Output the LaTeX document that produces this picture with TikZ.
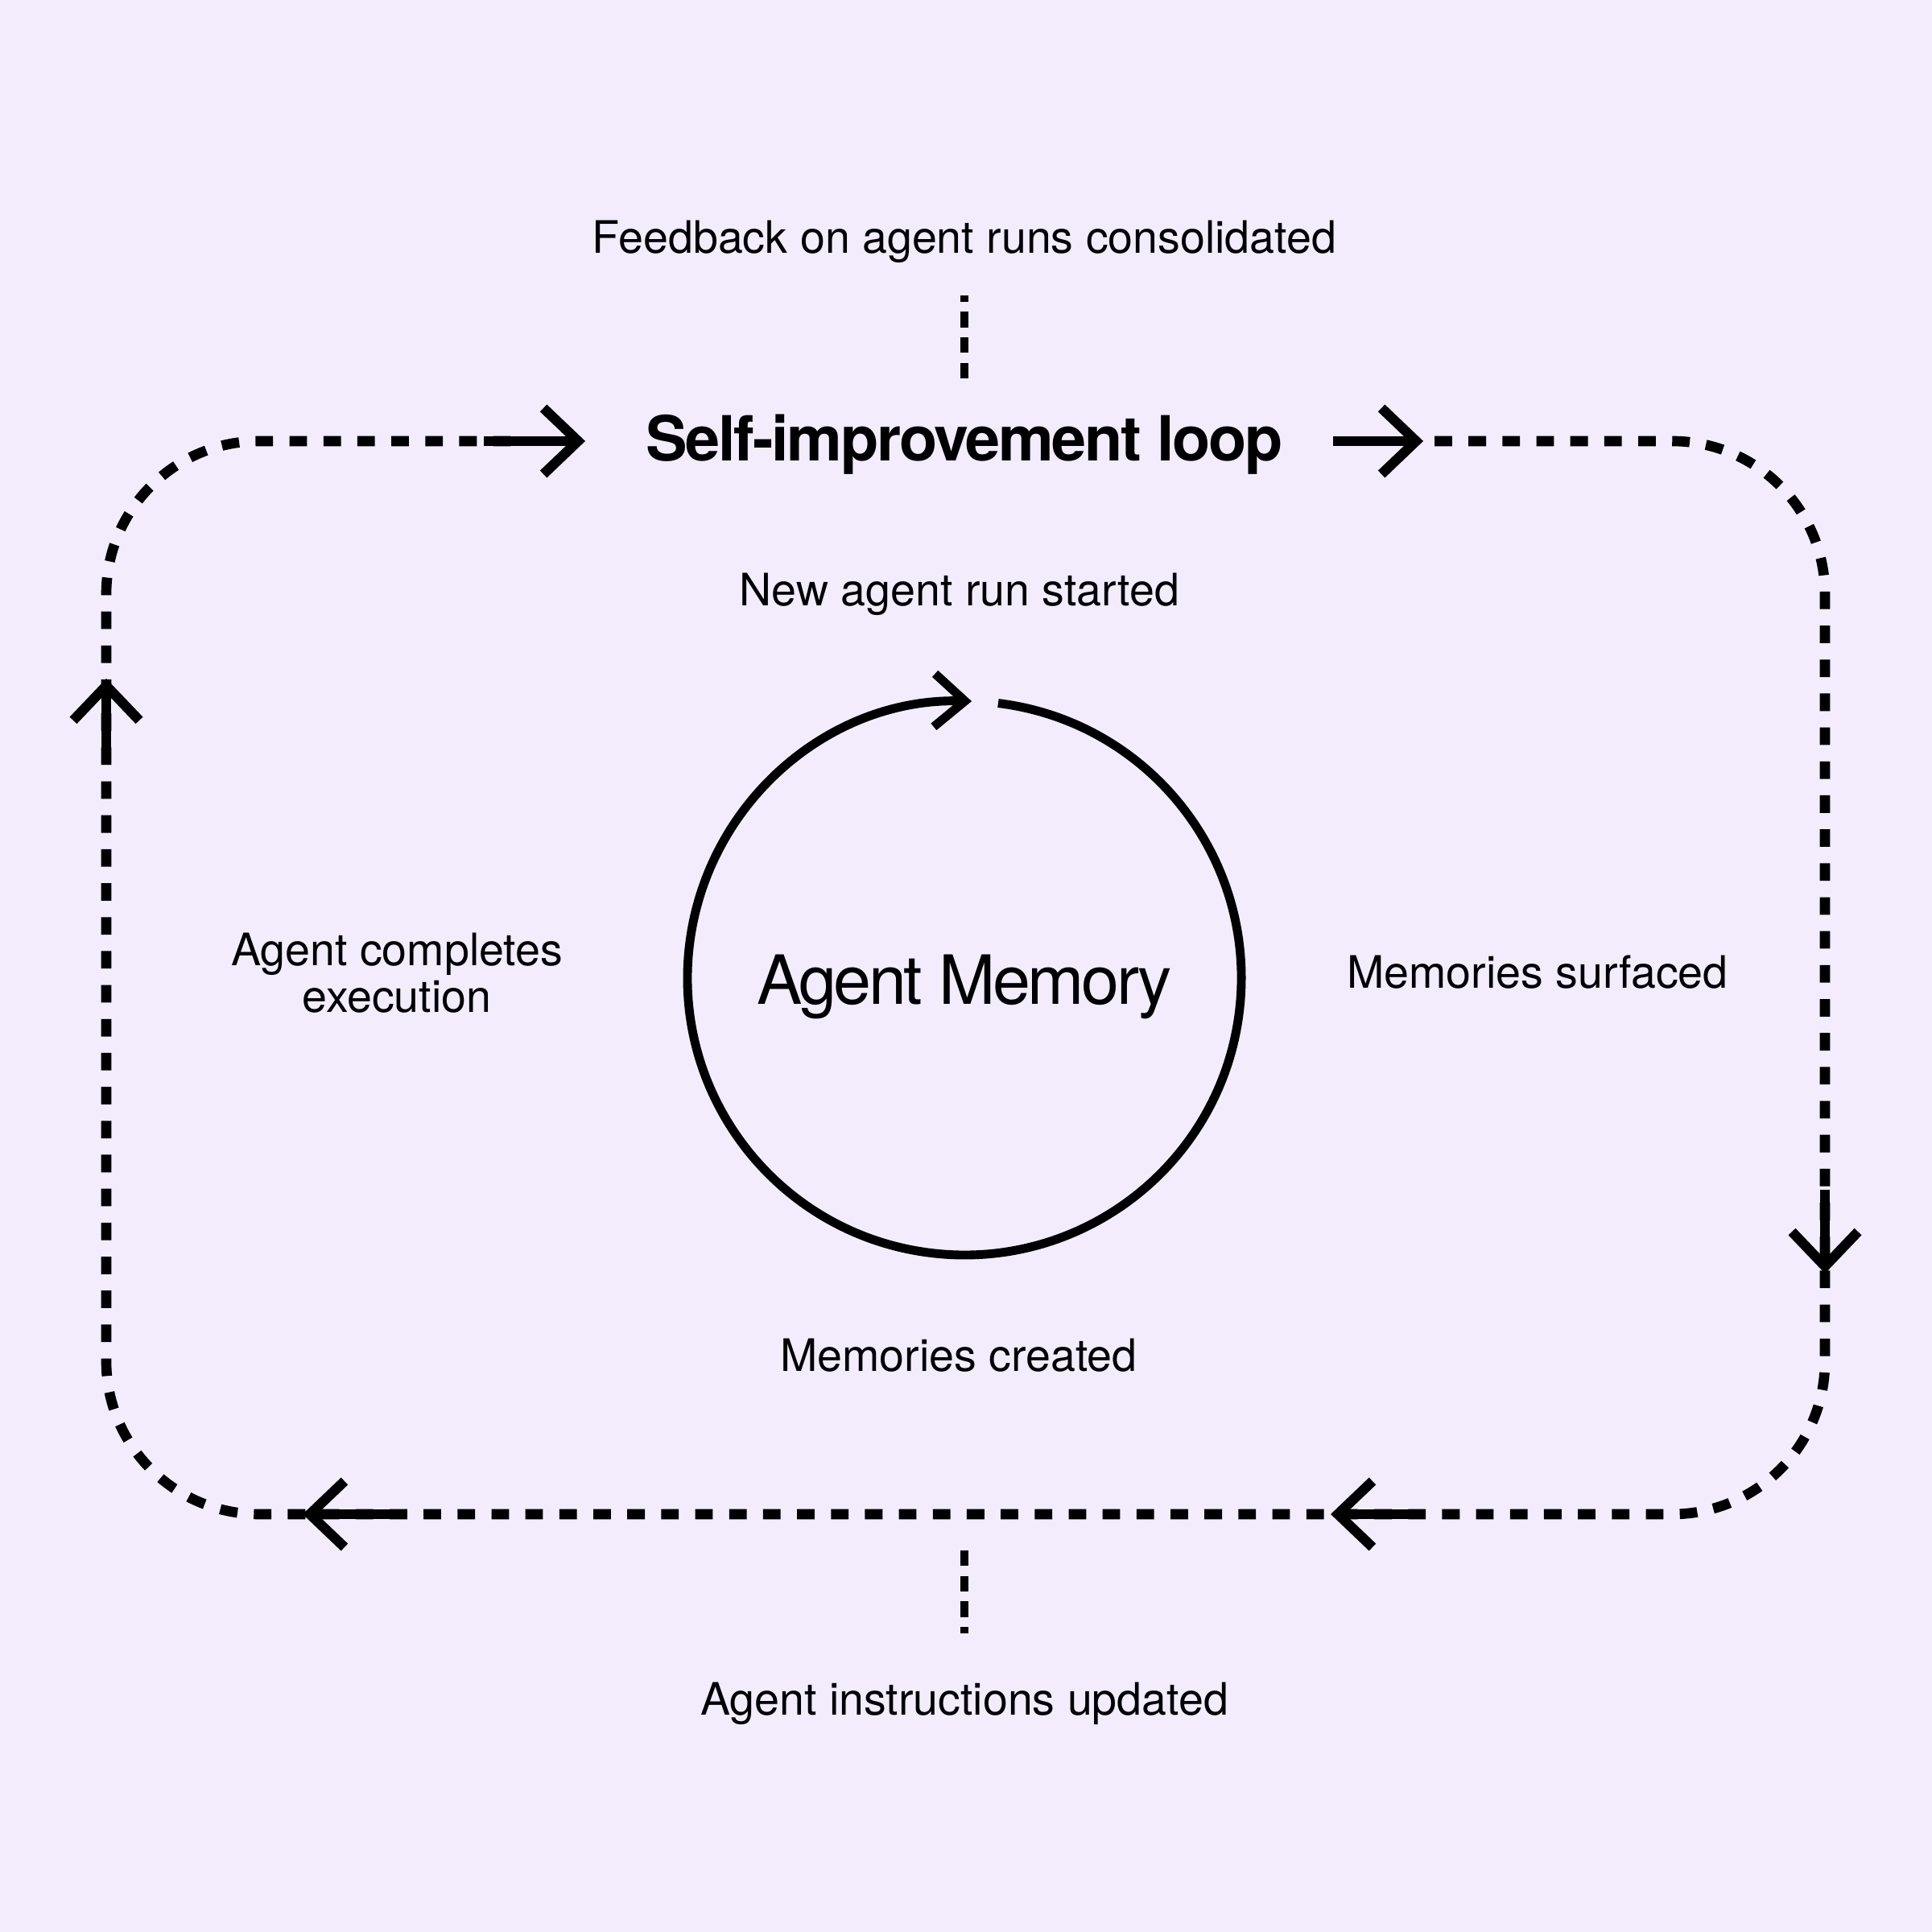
\documentclass[tikz,border=0pt]{standalone}
\usepackage{fontspec}
\setmainfont{TeX Gyre Heros}
\usetikzlibrary{arrows.meta}
\definecolor{bgpurple}{HTML}{F2ECFD}
\tikzset{
  loopline/.style={line width=3.6pt, dash pattern=on 6.2pt off 5.8pt},
  tickline/.style={line width=2.7pt, dash pattern=on 5.5pt off 3.5pt},
  arrowline/.style={line width=3.5pt, -{Straight Barb[length=4.3mm,width=8.2mm]}},
  ringline/.style={line width=3.1pt, -{Straight Barb[length=3.8mm,width=6.6mm]}},
  steptext/.style={font=\fontsize{15.8}{16.5}\selectfont, align=center, inner sep=0pt},
  titletext/.style={font=\fontsize{22}{26}\selectfont\bfseries\addfontfeature{LetterSpace=-3}, inner sep=0pt},
  coretext/.style={font=\fontsize{24}{28}\selectfont\addfontfeature{LetterSpace=-4}, inner sep=0pt},
}
\begin{document}
\begin{tikzpicture}
\fill[bgpurple] (0,0) rectangle (24,24);
\useasboundingbox (0,0) rectangle (24,24);
\node[steptext] (feedback) at (11.98,21.00) {Feedback on agent runs consolidated};
\node[titletext] (title) at (11.98,18.48) {Self-improvement loop};
\node[steptext] (newrun) at (11.92,16.62) {New agent run started};
\node[coretext] (memory) at (11.98,11.74) {Agent Memory};
\node[steptext] (completes) at (4.93,11.91) {Agent completes\\execution};
\node[steptext] (surfaced) at (19.10,11.92) {Memories surfaced};
\node[steptext] (created) at (11.91,7.16) {Memories created};
\node[steptext] (instructions) at (11.98,2.84) {Agent instructions updated};
\coordinate (ctr) at (11.98,11.85);
\coordinate (tlA) at (6.01,18.52);
\coordinate (tlB) at (7.27,18.52);
\coordinate (trA) at (16.56,18.52);
\coordinate (trB) at (17.68,18.52);
\coordinate (rA) at (22.67,9.22);
\coordinate (rB) at (22.67,8.18);
\coordinate (brA) at (17.57,5.19);
\coordinate (brB) at (16.53,5.19);
\coordinate (blA) at (4.92,5.19);
\coordinate (blB) at (3.76,5.19);
\coordinate (lA) at (1.32,14.51);
\coordinate (lB) at (1.32,15.57);
\coordinate (fbA) at (11.98,20.33);
\coordinate (fbB) at (11.98,19.30);
\coordinate (inA) at (11.98,4.74);
\coordinate (inB) at (11.98,3.71);
\coordinate (loopstart) at (17.82,18.52);
\coordinate (loopend) at (6.40,18.52);
\draw[loopline, rounded corners=1.9cm] (loopstart) -- (22.67,18.52) -- (22.67,5.19)
  -- (1.32,5.19) -- (1.32,18.52) -- (loopend);
\draw[tickline] (fbB) -- (fbA);
\draw[tickline] (inA) -- (inB);
\draw[arrowline] (tlA) -- (tlB);
\draw[arrowline] (trA) -- (trB);
\draw[arrowline] (rA) -- (rB);
\draw[arrowline] (brA) -- (brB);
\draw[arrowline] (blA) -- (blB);
\draw[arrowline] (lA) -- (lB);
\draw[ringline] (ctr) ++(83:3.44) arc[start angle=83, end angle=-271.5, radius=3.44];
\end{tikzpicture}
\end{document}
